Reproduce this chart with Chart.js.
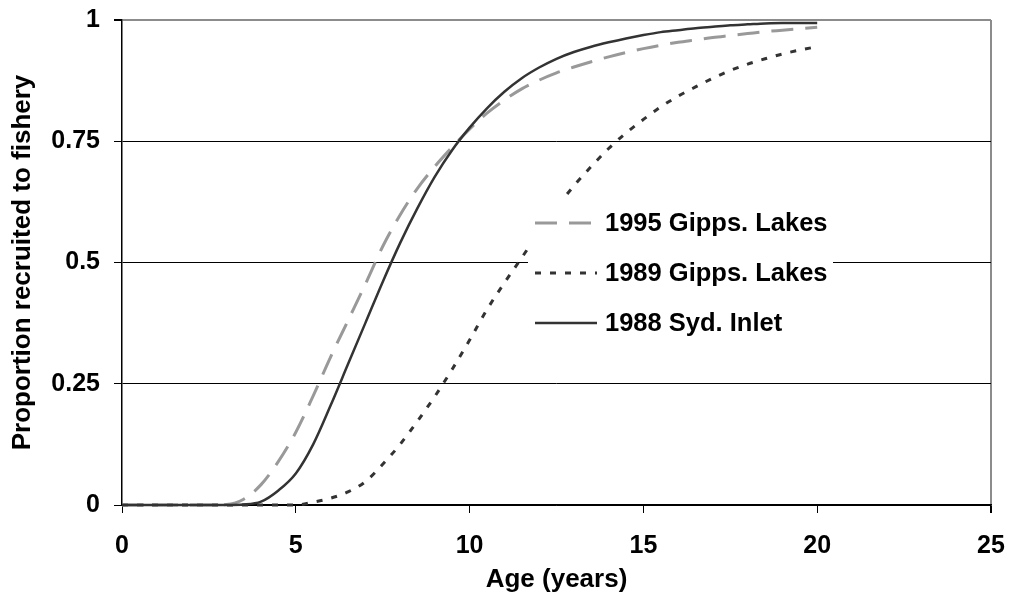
<!DOCTYPE html>
<html>
<head>
<meta charset="utf-8">
<script src="https://cdn.jsdelivr.net/npm/chart.js@4"></script>
<style>
  body { margin: 0; background: #fff; }
  #wrap { width: 1010px; height: 609px; }
</style>
</head>
<body>
<div id="wrap"><canvas id="recruitChart" width="1010" height="609"></canvas></div>
<script>
// age in years, sampled every half year
const ages = [0, 0.5, 1, 1.5, 2, 2.5, 3, 3.5, 4, 4.5, 5, 5.5, 6, 6.5, 7, 7.5, 8, 8.5, 9, 9.5,
    10, 10.5, 11, 11.5, 12, 12.5, 13, 13.5, 14, 14.5, 15, 15.5, 16, 16.5, 17, 17.5, 18, 18.5, 19, 19.5, 20];

const gipps1995 = [0, 0, 0, 0, 0, 0, 0.001, 0.012, 0.042, 0.09, 0.15, 0.225, 0.305, 0.38, 0.455, 0.533,
    0.598, 0.653, 0.698, 0.738, 0.775, 0.808, 0.835, 0.858, 0.876, 0.891, 0.903, 0.914, 0.924, 0.933,
    0.941, 0.948, 0.954, 0.959, 0.964, 0.968, 0.972, 0.976, 0.979, 0.982, 0.985];

const gipps1989 = [0, 0, 0, 0, 0, 0, 0, 0, 0, 0, 0, 0.006, 0.014, 0.027, 0.048, 0.084, 0.125, 0.173,
    0.224, 0.28, 0.34, 0.403, 0.458, 0.51, 0.563, 0.613, 0.658, 0.698, 0.735, 0.767, 0.795, 0.821,
    0.843, 0.862, 0.88, 0.896, 0.909, 0.92, 0.93, 0.938, 0.945];

const sydInlet1988 = [0, 0, 0, 0, 0, 0, 0, 0.001, 0.007, 0.03, 0.065, 0.125, 0.205, 0.29, 0.375, 0.46,
    0.54, 0.612, 0.677, 0.732, 0.778, 0.818, 0.852, 0.88, 0.902, 0.92, 0.934, 0.945, 0.954, 0.962,
    0.969, 0.975, 0.979, 0.983, 0.986, 0.989, 0.991, 0.993, 0.994, 0.994, 0.994];

const seriesNames = ['1995 Gipps. Lakes', '1989 Gipps. Lakes', '1988 Syd. Inlet'];
const yTickText = { 0: '0', 0.25: '0.25', 0.5: '0.5', 0.75: '0.75', 1: '1' };

const FONT = 'Liberation Sans, Arial, sans-serif';

function toPoints(values) {
    return values.map((v, i) => ({ x: ages[i], y: v }));
}

const styles = [
    { color: '#999999', dash: [22, 12], width: 3 },
    { color: '#333333', dash: [6, 9], width: 3 },
    { color: '#333333', dash: [], width: 2.5 }
];

// legend box sitting inside the plot, white background over the gridline
const boxLegend = {
    id: 'boxLegend',
    afterDatasetsDraw(chart) {
        const ctx = chart.ctx;
        ctx.save();
        ctx.fillStyle = '#fff';
        ctx.fillRect(528, 198, 305, 150);
        const rows = [223, 273, 323];
        ctx.font = 'bold 25.5px ' + FONT;
        ctx.textBaseline = 'middle';
        ctx.textAlign = 'left';
        for (let i = 0; i < seriesNames.length; i++) {
            const s = styles[i];
            ctx.beginPath();
            ctx.strokeStyle = s.color;
            ctx.lineWidth = s.width;
            ctx.setLineDash(s.dash);
            ctx.moveTo(535, rows[i]);
            ctx.lineTo(597, rows[i]);
            ctx.stroke();
            ctx.setLineDash([]);
            ctx.fillStyle = '#000';
            ctx.fillText(seriesNames[i], 605, rows[i] + 1);
        }
        ctx.restore();
    }
};

const datasets = [gipps1995, gipps1989, sydInlet1988].map((vals, i) => ({
    label: seriesNames[i],
    data: toPoints(vals),
    borderColor: styles[i].color,
    borderWidth: styles[i].width,
    borderDash: styles[i].dash,
    pointRadius: 0,
    cubicInterpolationMode: 'monotone',
    fill: false,
    clip: 4,
    order: i === 2 ? 0 : i + 1
}));

new Chart(document.getElementById('recruitChart'), {
    type: 'line',
    data: { datasets: datasets },
    options: {
        responsive: false,
        animation: false,
        layout: { padding: { top: 20, right: 19, left: 0, bottom: 0 } },
        plugins: {
            legend: { display: false },
            tooltip: { enabled: false }
        },
        scales: {
            x: {
                type: 'linear',
                min: 0,
                max: 25,
                afterFit: function (scale) {
                    scale.height = 104;
                    scale.paddingLeft = 0;
                    scale.paddingRight = 0;
                },
                ticks: {
                    stepSize: 5,
                    padding: 18,
                    color: '#000',
                    font: { family: FONT, size: 25, weight: 'bold' }
                },
                grid: {
                    drawOnChartArea: true,
                    color: c => (c.tick && c.tick.value === 25 ? '#8c8c8c' : 'rgba(0,0,0,0)'),
                    lineWidth: c => (c.tick && c.tick.value === 25 ? 2 : 1),
                    tickColor: '#000',
                    tickLength: 8
                },
                border: { color: '#000', width: 1.5 },
                title: {
                    display: true,
                    text: 'Age (years)',
                    color: '#000',
                    font: { family: FONT, size: 26, weight: 'bold' },
                    padding: { top: 0, bottom: 14 }
                }
            },
            y: {
                min: 0,
                max: 1,
                afterFit: function (scale) {
                    scale.width = 122;
                    scale.paddingTop = 0;
                    scale.paddingBottom = 0;
                },
                ticks: {
                    stepSize: 0.25,
                    padding: 14,
                    color: '#000',
                    font: { family: FONT, size: 25, weight: 'bold' },
                    callback: v => yTickText[v]
                },
                grid: {
                    color: c => (c.tick && c.tick.value === 1 ? '#8c8c8c' : '#000'),
                    lineWidth: c => (c.tick && c.tick.value === 1 ? 2 : 1),
                    tickColor: '#000',
                    tickLength: 8
                },
                border: { color: '#000', width: 1.5 },
                title: {
                    display: true,
                    text: 'Proportion recruited to fishery',
                    color: '#000',
                    font: { family: FONT, size: 26, weight: 'bold' },
                    padding: { top: 7, bottom: 0 }
                }
            }
        }
    },
    plugins: [boxLegend]
});
</script>
</body>
</html>
